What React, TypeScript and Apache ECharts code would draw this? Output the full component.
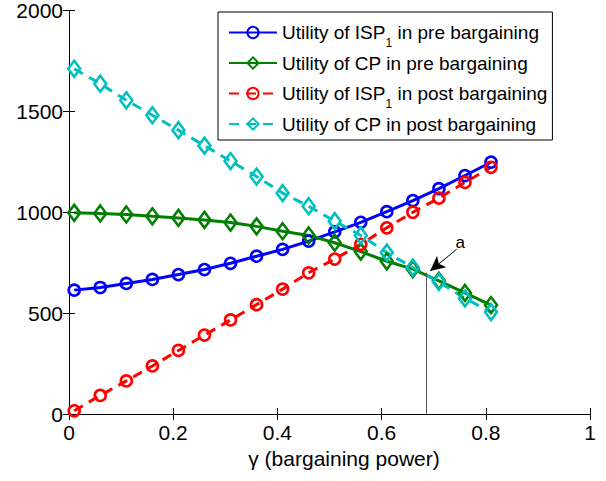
import React, { useEffect, useRef } from "react";
import * as echarts from "echarts";

// bargaining power gamma
const gamma = [0.01, 0.06, 0.11, 0.16, 0.21, 0.26, 0.31, 0.36, 0.41, 0.46, 0.51, 0.56, 0.61, 0.66, 0.71, 0.76, 0.81];
const ispPre = [614, 627, 647, 667, 691, 716, 747, 782, 816, 857, 903, 950, 1003, 1058, 1117, 1182, 1248];
const cpPre = [997, 994, 989, 980, 972, 962, 949, 930, 906, 885, 849, 805, 757, 718, 660, 600, 540];
const ispPost = [16, 92, 164, 238, 315, 391, 466, 542, 619, 700, 768, 841, 923, 1000, 1070, 1148, 1223];
const cpPost = [1711, 1637, 1555, 1481, 1407, 1330, 1254, 1177, 1095, 1030, 956, 885, 800, 726, 655, 573, 505];

const seriesNames = [
  "Utility of ISP{sub|1} in pre bargaining",
  "Utility of CP in pre bargaining",
  "Utility of ISP{sub|1} in post bargaining",
  "Utility of CP in post bargaining",
];

// marker line at point "a"
const aGamma = 0.685;
const aValue = 701;
const arrowFrom = [0.744, 816];
const arrowTo = [0.693, 709];
const aLabelPos = [0.751, 852];

const xTicks = { min: 0, max: 1, interval: 0.2 };
const yTicks = { min: 0, max: 2000, interval: 500 };

const FONT = "'Liberation Sans', Arial, Helvetica, sans-serif";

export default function App() {
  const ref = useRef<HTMLDivElement>(null);

  useEffect(() => {
    if (!ref.current) return;
    const chart = echarts.init(ref.current, undefined, { renderer: "svg" });

    const pairs = (vals: number[]) => gamma.map((g, i) => [g, vals[i]]);

    const mk = (
      name: string,
      vals: number[],
      color: string,
      symbol: string,
      symbolSize: number | number[],
      dashed: boolean,
      extra: any = {}
    ) => ({
      name,
      type: "line",
      data: pairs(vals),
      symbol,
      symbolSize,
      showSymbol: true,
      lineStyle: { color, width: 3, type: dashed ? [10, 7] : "solid" },
      itemStyle: { color: "rgba(0,0,0,0)", borderColor: color, borderWidth: 2.6 },
      emphasis: { disabled: true },
      ...extra,
    });

    const axisCommon = {
      axisLine: { show: true, lineStyle: { color: "#000", width: 1 } },
      axisTick: { show: true, inside: true, length: 6, lineStyle: { color: "#000" } },
      splitLine: { show: false },
    };

    chart.setOption({
      animation: false,
      backgroundColor: "#fff",
      textStyle: { fontFamily: FONT },
      grid: { left: 69, right: 16, top: 8, bottom: 67, containLabel: false },
      legend: {
        orient: "vertical",
        left: 218,
        top: 12,
        padding: [4, 5, 5, 10],
        itemGap: 3,
        itemWidth: 48,
        itemHeight: 14,
        borderColor: "#000",
        borderWidth: 1,
        backgroundColor: "#fff",
        data: seriesNames,
        textStyle: {
          fontFamily: FONT,
          fontSize: 19,
          color: "#000",
          lineHeight: 22,
          rich: {
            sub: { fontSize: 12, fontFamily: FONT, color: "#000", lineHeight: 22, padding: [21, 0, 0, 0] },
          },
        },
        formatter: (n: string) => n,
      },
      xAxis: [
        {
          type: "value",
          ...xTicks,
          position: "bottom",
          ...axisCommon,
          axisLabel: { fontSize: 21, color: "#000", margin: 8, fontFamily: FONT },
          name: "γ (bargaining power)",
          nameLocation: "middle",
          nameGap: 34,
          nameTextStyle: { fontSize: 21, color: "#000", fontFamily: FONT, padding: [0, 0, 0, 29] },
        },
        {
          type: "value",
          ...xTicks,
          position: "top",
          ...axisCommon,
          axisLabel: { show: false },
        },
      ],
      yAxis: [
        {
          type: "value",
          ...yTicks,
          position: "left",
          ...axisCommon,
          axisLabel: { fontSize: 21, color: "#000", margin: 6, fontFamily: FONT, formatter: (v: number) => String(v) },
        },
        {
          type: "value",
          ...yTicks,
          position: "right",
          ...axisCommon,
          axisLabel: { show: false },
        },
      ],
      series: [
        mk(seriesNames[0], ispPre, "#0000ff", "circle", 11, false),
        mk(seriesNames[1], cpPre, "#007f00", "diamond", [12, 16], false, {
          markLine: {
            silent: true,
            animation: false,
            label: { show: false },
            emphasis: { disabled: true },
            data: [
              [
                { coord: [aGamma, 0], symbol: "none", lineStyle: { color: "#555", width: 1, type: "solid" } },
                { coord: [aGamma, aValue], symbol: "none" },
              ],
              [
                { coord: arrowFrom, symbol: "none", lineStyle: { color: "#000", width: 1, type: "solid" } },
                { coord: arrowTo, symbol: "arrow", symbolSize: [11, 15] },
              ],
            ],
          },
          markPoint: {
            silent: true,
            symbol: "circle",
            symbolSize: 1,
            itemStyle: { color: "rgba(0,0,0,0)" },
            label: { show: true, position: "inside", formatter: "a", color: "#000", fontSize: 17, fontFamily: FONT },
            data: [{ coord: aLabelPos }],
          },
        }),
        mk(seriesNames[2], ispPost, "#ff0000", "circle", 11, true),
        mk(seriesNames[3], cpPost, "#00bfbf", "diamond", [12, 16], true),
      ],
    });

    return () => chart.dispose();
  }, []);

  return (
    <div
      ref={ref}
      style={{ position: "fixed", left: 0, top: 0, width: 606, height: 481, background: "#fff" }}
    />
  );
}
